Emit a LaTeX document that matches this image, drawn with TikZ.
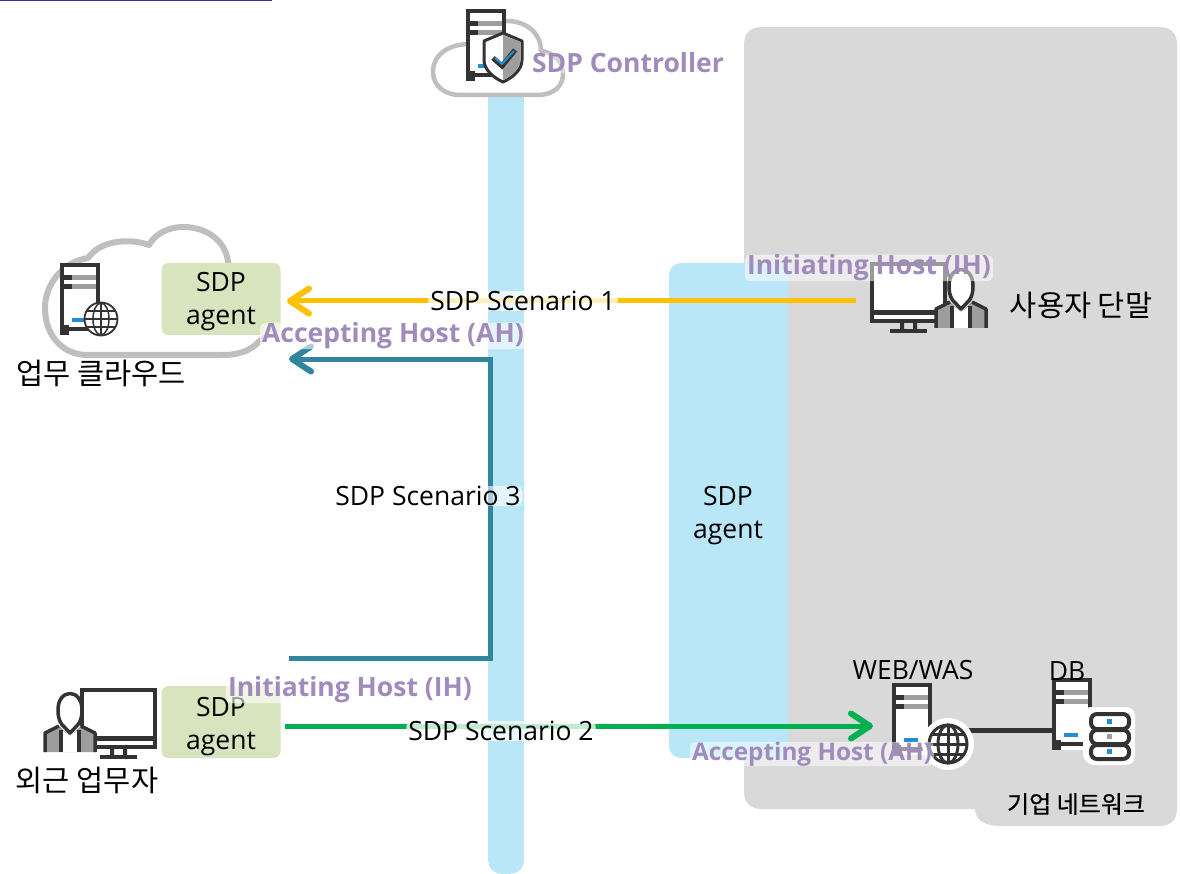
\documentclass[tikz,border=0pt]{standalone}
\usepackage{fontspec}
\usetikzlibrary{arrows.meta,calc}
\setmainfont{Open Sans}
\newfontfamily\krfont{Noto Sans CJK KR}
\newfontfamily\krmed[FakeBold=0.5]{Noto Sans CJK KR}
\definecolor{dk}{HTML}{333333}
\definecolor{mid}{HTML}{9E9E9E}
\definecolor{cl}{HTML}{BFBFBF}
\definecolor{bgg}{HTML}{D9D9D9}
\definecolor{skyb}{HTML}{B9E7F7}
\definecolor{agentg}{HTML}{D7E4BD}
\definecolor{purp}{HTML}{A18BBD}
\definecolor{tealc}{HTML}{31859C}
\definecolor{yel}{HTML}{FFC000}
\definecolor{grn}{HTML}{00B050}
\definecolor{blu}{HTML}{2290D0}
\tikzset{
 x=1pt,y=-1pt,
 every node/.style={inner sep=0pt,outer sep=0pt,align=center,text=black},
 lbl/.style={font=\fontsize{26.5}{33}\selectfont},
 kr/.style={font=\krfont\fontsize{29.5}{34}\selectfont},
 hostlbl/.style={font=\bfseries\fontsize{26.5}{32}\selectfont,text=purp},
 halo/.style={fill=white,fill opacity=#1,text opacity=1,rounded corners=5pt,inner xsep=2pt,inner ysep=0pt},
 halo/.default=0.65,
 agentbox/.style={fill=agentg,rounded corners=7pt,minimum width=119pt,minimum height=72pt},
 cloudline/.style={draw=cl,line width=4.5pt,fill=white,line join=round},
 conn/.style={line width=5pt,-{Straight Barb[round,length=19pt,width=25pt,line width=6pt]}},
 srv/.pic={
  \fill[white] (0,0) rectangle (40,72);
  \draw[dk,line width=4pt] (2,2) rectangle (38,66);
  \fill[dk] (0,62) rectangle (9,72);
  \fill[dk] (0,12) rectangle (12,17);
  \fill[dk] (0,21) rectangle (12,26);
  \fill[mid] (12,12) rectangle (36,17);
  \fill[mid] (12,21) rectangle (36,26);
  \fill[blu] (12,55) rectangle (26,59);
 },
 glb/.pic={
  \draw[dk,line width=1.8pt,fill=white] (0,0) circle (16.5);
  \draw[dk,line width=1.5pt] (0,-16) -- (0,16) (-16,0) -- (16,0)
    (-14,-8) -- (14,-8) (-14,8) -- (14,8);
  \draw[dk,line width=1.5pt] (0,0) ellipse (8 and 16);
 },
 dkglb/.pic={
  \draw[dk,line width=3pt,fill=white] (0,0) circle (19);
  \draw[dk,line width=3pt] (0,-19) -- (0,19) (-19,0) -- (19,0)
    (-16,-10) -- (16,-10) (-16,10) -- (16,10);
  \draw[dk,line width=3pt] (0,0) ellipse (10 and 19);
 },
 mon/.pic={
  \draw[dk,line width=4pt,fill=white] (2,2) rectangle (75,59);
  \fill[dk] (0,48) rectangle (77,53);
  \fill[dk] (30,61) rectangle (34,67) (43,61) rectangle (47,67);
  \fill[dk] (20,67) rectangle (57,71);
 },
 prs/.pic={
  \fill[mid] (-25,25) -- (-11,18) -- (0,28) -- (11,18) -- (25,25) -- (25,44) -- (-25,44) -- cycle;
  \fill[white] (-8,22) -- (0,28) -- (8,22) -- (8,44) -- (-8,44) -- cycle;
  \draw[dk,line width=3.5pt,line join=round] (-25,44) -- (-25,25) -- (-11,18);
  \draw[dk,line width=3.5pt,line join=round] (25,44) -- (25,25) -- (11,18);
  \draw[dk,line width=3.5pt] (-9,22) -- (-9,44) (9,22) -- (9,44);
  \draw[dk,line width=3.5pt,fill=white,line join=round] (0,25) -- (-8.5,16) .. controls (-11,12) and (-12,8) .. (-12,2) .. controls (-12,-20) and (12,-20) .. (12,2) .. controls (12,8) and (11,12) .. (8.5,16) -- cycle;
 },
}
\begin{document}
\begin{tikzpicture}
\useasboundingbox (0,0) rectangle (1180,874);
\fill[white] (0,0) rectangle (1180,874);
\fill[blue!50!black!80] (0,0) rectangle (272,1.5);
% grey enterprise area
\fill[bgg] (744,45) .. controls (744,33) and (750,27) .. (762,27) -- (1159,27) .. controls (1171,27) and (1177,33) .. (1177,45)
 -- (1177,808) .. controls (1177,820) and (1171,826) .. (1159,826) -- (1000,826) .. controls (985,826) and (975,820) .. (975,809)
 -- (762,809) .. controls (750,809) and (744,803) .. (744,791) -- cycle;
% blue bands
\fill[skyb] (488,90) -- (524,90) -- (524,858) .. controls (524,870) and (518,874) .. (506,874) .. controls (494,874) and (488,870) .. (488,858) -- cycle;
\fill[skyb] (681,263) -- (788,263) -- (788,758) -- (681,758) .. controls (674,758) and (669,753) .. (669,746) -- (669,275) .. controls (669,268) and (674,263) .. (681,263) -- cycle;
% top cloud
\draw[cloudline] (460,95) -- (537,95) .. controls (555,95) and (563,85) .. (563,74) .. controls (563,62) and (553,52) .. (541,51)
 .. controls (541,32) and (525,21) .. (507,21) .. controls (490,21) and (476,30) .. (470,44)
 .. controls (448,44) and (433,55) .. (433,72) .. controls (433,86) and (445,95) .. (460,95) -- cycle;
\pic at (466,9) {srv};
\draw[dk,line width=3pt,fill=white,line join=round] (484,41) -- (503,33) -- (522,41) -- (522,60) .. controls (522,70) and (512,78) .. (503,82) .. controls (494,78) and (484,70) .. (484,60) -- cycle;
\fill[mid] (503,35) -- (520.5,42) -- (520.5,60) .. controls (520.5,69) and (511,76) .. (503,80) -- cycle;
\draw[dk,line width=5pt] (493,58) -- (502,66) -- (515,50);
\draw[blu,line width=2pt] (495,58) -- (502,64) -- (514,51);
% left cloud
\draw[cloudline,line width=6pt] (88,355) -- (222,355) .. controls (240,355) and (255,350) .. (264,335) -- (240,300) -- (228,262)
 .. controls (226,242) and (208,227) .. (183,227) .. controls (168,227) and (155,234) .. (149,245)
 .. controls (130,238) and (100,240) .. (88,258)
 .. controls (62,262) and (45,285) .. (45,308) .. controls (45,335) and (62,355) .. (88,355) -- cycle;
\fill[white] (240,300) -- (262,300) -- (262,336) -- (250,342) -- cycle;
\pic at (60,263) {srv};
\pic at (101,319) {glb};
\node[kr] (cloudlbl) at (101,373) {업무 클라우드};
\node[agentbox] (agent1) at (221,299) {};
\node[lbl] (agent1t) at (221,302) {SDP\\agent};
\node[agentbox] (agent2) at (221,722) {};
\node[lbl] (agent2t) at (221,727) {SDP\\agent};
% left user
\pic at (80,688) {mon};
\pic at (70,708) {prs};
\node[kr] (wk) at (87,780) {외근 업무자};
% right user
\pic at (870,262) {mon};
\pic at (961,284) {prs};
\node[kr] (ut) at (1081,305) {사용자 단말};
% connectors
\coordinate (yS) at (856,301); \coordinate (yE) at (287,301);
\draw[conn,yel] (yS) -- (yE);
\coordinate (tS) at (289,658); \coordinate (tM) at (490,658); \coordinate (tN) at (490,359); \coordinate (tE) at (289,359);
\draw[conn,tealc,line join=miter] (tS) -- (tM) -- (tN) -- (tE);
\coordinate (gS) at (285,726); \coordinate (gE) at (873,726);
% servers
\coordinate (wdb) at (960,730); \coordinate (dbs) at (1056,730);
\draw[dk,line width=5pt] (wdb) -- (dbs);
\begin{scope}[shift={(892,683)},yscale=1.14,xscale=1.1]
\pic {srv};
\end{scope}
\begin{scope}[shift={(1052,678)},yscale=1.17,xscale=1.1]
\pic {srv};
\end{scope}
\draw[conn,grn] (gS) -- (gE);
\fill[white] (948,744) circle (26);
\pic at (948,744) {dkglb};
\fill[white,rounded corners=4pt] (1086,707) -- (1130,707) -- (1135,712) -- (1135,760) -- (1130,765) -- (1090,765) -- (1083,758) -- (1083,712) -- cycle;
\draw[dk,line width=4pt,rounded corners=6pt] (1091,714) rectangle (1129,729);
\draw[dk,line width=4pt,rounded corners=6pt] (1091,730) rectangle (1129,744);
\draw[dk,line width=4pt,rounded corners=6pt] (1091,745) rectangle (1129,759);
\fill[blu] (1107,719) rectangle (1112,724);
\fill[mid] (1107,734) rectangle (1112,739);
\fill[blu] (1107,749) rectangle (1112,754);
% texts
\node[lbl] (web) at (913,670) {WEB/WAS};
\node[lbl] (db) at (1067,671) {DB};
\node[font=\krmed\fontsize{24}{28}\selectfont] (net) at (1076,804) {기업 네트워크};
\node[lbl] (agent3) at (728,516) {SDP\\agent};
\node[hostlbl,halo=0.4] (ctrl) at (628,63) {SDP Controller};
\node[hostlbl,halo=0.5] (ih1) at (869,268) {Initiating Host (IH)};
\node[hostlbl,halo=0.6] (ah1) at (393,336) {Accepting Host (AH)};
\node[hostlbl,halo=0.6] (ih2) at (350,690) {Initiating Host (IH)};
\node[hostlbl,halo=0.5,font=\bfseries\fontsize{24.3}{30}\selectfont] (ah2) at (812,754) {Accepting Host (AH)};
\node[lbl,halo=0.75] (s1) at (523,301) {SDP Scenario 1};
\node[lbl,halo=0.75] (s2) at (501,731) {SDP Scenario 2};
\node[lbl,halo=0.6] (s3) at (428,496) {SDP Scenario 3};
\end{tikzpicture}
\end{document}
